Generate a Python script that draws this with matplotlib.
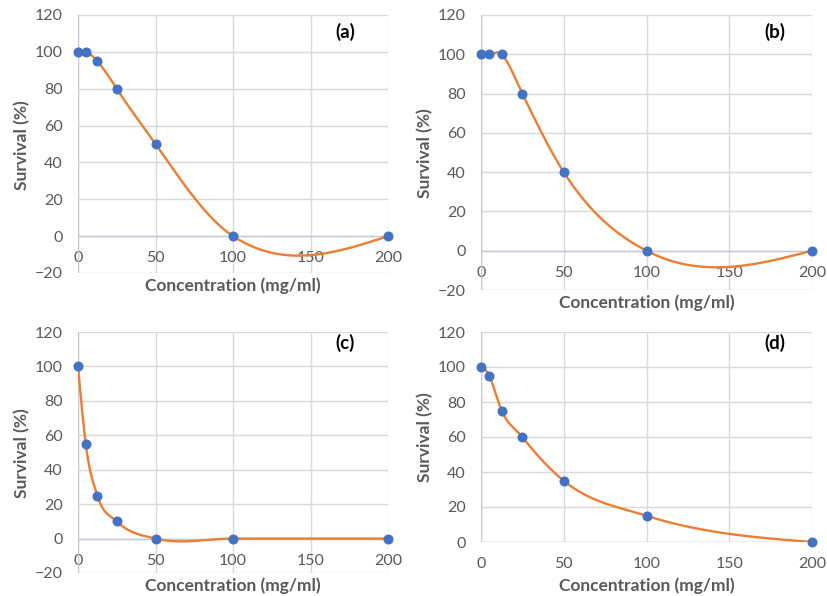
import numpy as np
import matplotlib
matplotlib.use("Agg")
import matplotlib.pyplot as plt

plt.rcParams['font.family'] = ['Lato', 'DejaVu Sans']

# ---- data ----
conc = [0, 5, 12.5, 25, 50, 100, 200]
surv_a = [100, 100, 95, 80, 50, 0, 0]
surv_b = [100, 100, 100, 80, 40, 0, 0]
surv_c = [100, 55, 25, 10, 0, 0, 0]
surv_d = [100, 95, 75, 60, 35, 15, 0]
panel_labels = ['(a)', '(b)', '(c)', '(d)']
x_ticks = [0, 50, 100, 150, 200]
y_ticks_neg = [-20, 0, 20, 40, 60, 80, 100, 120]
y_ticks_pos = [0, 20, 40, 60, 80, 100, 120]
xlabel = 'Concentration (mg/ml)'
ylabel = 'Survival (%)'

BLUE = '#4472C4'
ORANGE = '#ED7D31'
GRAY = '#595959'
GRID = '#d9d9d9'
AXIS = '#c3cad6'


def smooth(x, y, k=1.1, n=40):
    """Excel-like smoothed line: cubic Hermite with averaged slopes."""
    x = np.asarray(x, float)
    y = np.asarray(y, float)
    h = np.diff(x)
    d = np.diff(y) / h
    m = np.zeros_like(y)
    m[1:-1] = (d[:-1] + d[1:]) / 2 * k
    m[0] = (3 * d[0] - m[1]) / 2
    m[-1] = (3 * d[-1] - m[-2]) / 2
    xs, ys = [], []
    for i in range(len(h)):
        t = np.linspace(0, 1, n)
        h00 = 2 * t**3 - 3 * t**2 + 1
        h10 = t**3 - 2 * t**2 + t
        h01 = -2 * t**3 + 3 * t**2
        h11 = t**3 - t**2
        xs.append(x[i] + t * h[i])
        ys.append(h00 * y[i] + h10 * h[i] * m[i] + h01 * y[i + 1] + h11 * h[i] * m[i + 1])
    return np.concatenate(xs), np.concatenate(ys)


W, H = 827, 596
fig = plt.figure(figsize=(W / 100, H / 100), dpi=100)


def px_axes(l, r, t, b):
    return [l / W, 1 - b / H, (r - l) / W, (b - t) / H]


panels = [
    dict(y=surv_a, rect=px_axes(78, 388, 15, 273), ymin=-20, lab=(0.861, 0.934),
         xl=(233, 286), yl=(22, 145)),
    dict(y=surv_b, rect=px_axes(481, 812, 15, 290), ymin=-20, lab=(0.888, 0.938),
         xl=(647, 303), yl=(425, 153)),
    dict(y=surv_c, rect=px_axes(78, 388, 332, 573), ymin=-20, lab=(0.861, 0.954),
         xl=(233, 586), yl=(22, 453)),
    dict(y=surv_d, rect=px_axes(481, 812, 332, 542), ymin=0, lab=(0.888, 0.948),
         xl=(647, 586), yl=(425, 437)),
]

for p, lab in zip(panels, panel_labels):
    ax = fig.add_axes(p['rect'])
    sx, sy = smooth(conc, p['y'])
    ax.plot(sx, sy, color=ORANGE, lw=1.7, zorder=3, solid_capstyle='round')
    ax.plot(conc, p['y'], 'o', color=BLUE, ms=6.2, mec=BLUE, zorder=4, clip_on=False)
    ax.set_xlim(0, 200)
    ax.set_ylim(p['ymin'], 120)
    ax.set_xticks(x_ticks)
    ax.set_yticks(y_ticks_neg if p['ymin'] < 0 else y_ticks_pos)
    ax.grid(True, color=GRID, lw=1.0)
    ax.set_axisbelow(True)
    ax.axhline(0, color=AXIS, lw=1.0, zorder=1)
    ax.axvline(0, color=AXIS, lw=1.0, zorder=1)
    for s in ax.spines.values():
        s.set_visible(False)
    ax.spines['bottom'].set_position(('data', 0))
    ax.tick_params(axis='both', length=0, labelsize=11.5, labelcolor=GRAY)
    ax.tick_params(axis='y', pad=11)
    ax.tick_params(axis='x', pad=11)
    ax.text(p['lab'][0], p['lab'][1], lab, transform=ax.transAxes, ha='center', va='center',
            fontsize=13.5, fontweight='bold', color='black')
    fig.text(p['xl'][0] / W, 1 - p['xl'][1] / H, xlabel, ha='center', va='center',
             fontsize=12.5, fontweight='bold', color=GRAY)
    fig.text(p['yl'][0] / W, 1 - p['yl'][1] / H, ylabel, ha='center', va='center',
             rotation=90, fontsize=12.5, fontweight='bold', color=GRAY)

fig.savefig('out.png', dpi=100, facecolor='white')
